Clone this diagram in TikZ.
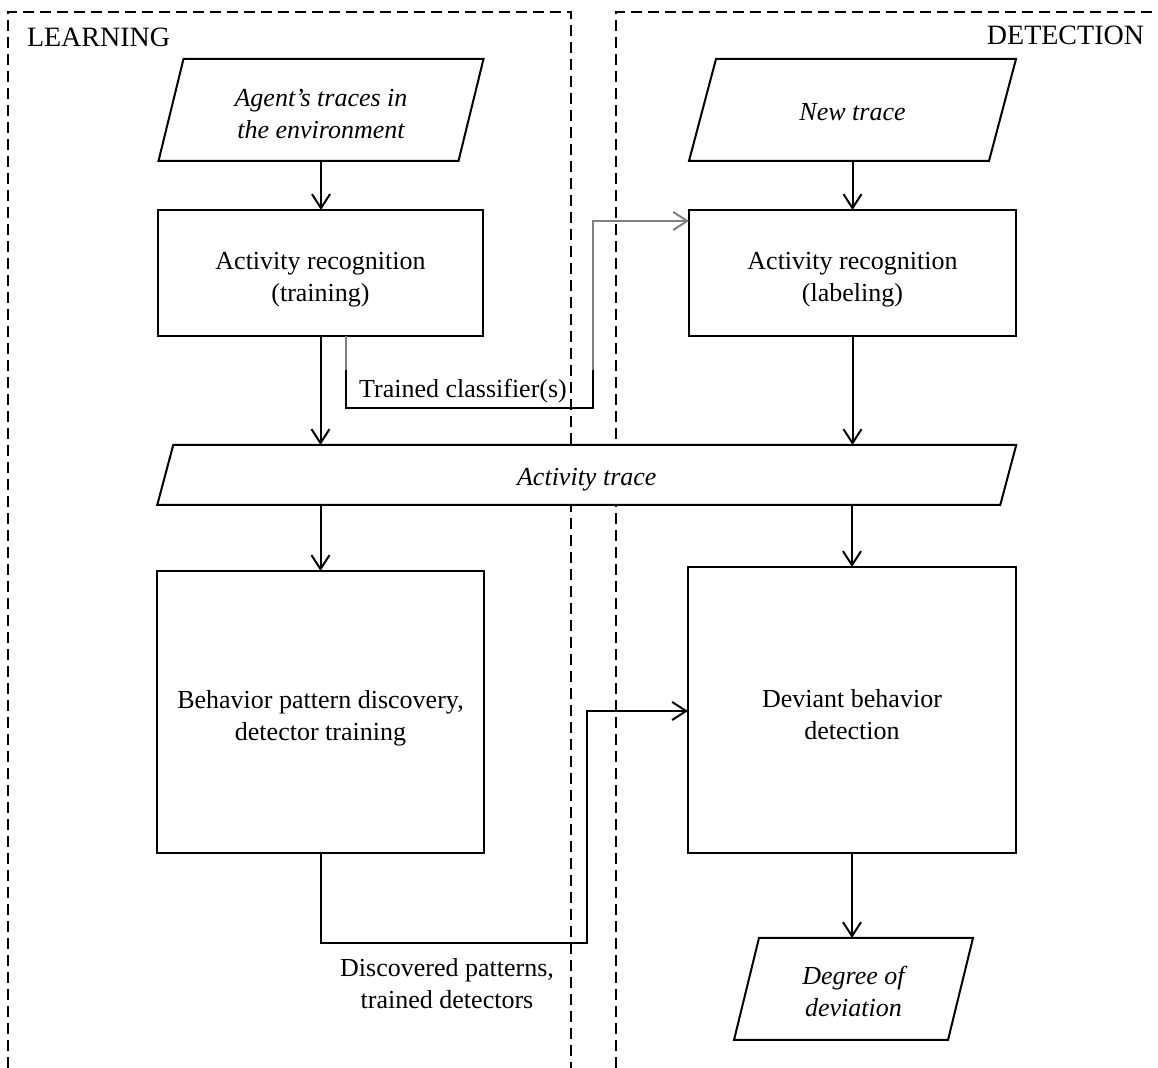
\documentclass[tikz,border=0pt]{standalone}
\usepackage{fontspec}
\setmainfont{Liberation Serif}
\usetikzlibrary{arrows.meta,calc}
\begin{document}
\begin{tikzpicture}[x=0.5pt,y=-0.5pt,
  every node/.style={font=\fontsize{13pt}{16pt}\selectfont, inner sep=0pt, outer sep=0pt, align=center},
  frame/.style={line width=1pt, dash pattern=on 5.5pt off 3pt},
  box/.style={draw, line width=1pt, rectangle},
  iobox/.style={rectangle, font=\fontsize{13pt}{16pt}\selectfont\itshape},
  flow/.style={line width=1pt, -{Straight Barb[length=7pt,width=9pt]}},
  link/.style={line width=1pt},
  faded/.style={draw=black!50},
  heading/.style={font=\fontsize{14pt}{16pt}\selectfont}
]
% parallelogram drawn around a plain rectangular node
\newcommand\slantbox[2]{\draw[line width=1pt] ($(#1.north west)+(#2,0)$) -- (#1.north east) -- ($(#1.south east)-(#2,0)$) -- (#1.south west) -- cycle;}

\useasboundingbox (0,0) rectangle (1158,1068);

% phase frames
\draw[frame] (8,1068) -- (8,12) -- (571,12) -- (571,1068);
\draw[frame] (616,1068) -- (616,12) -- (1158,12);
\node[heading, anchor=base west] (hlearn) at (27,47) {LEARNING};
\node[heading, anchor=base east] (hdetect) at (1144,45) {DETECTION};

% learning column (shapes first, their text set slightly below centre)
\node[iobox, minimum width=162.5pt, minimum height=51pt] (agent) at (321,110) {};
\node[iobox] (agentt) at ([yshift=-2pt]agent.center) {Agent's traces in\\the environment};
\slantbox{agent}{25}
\node[box, minimum width=162.5pt, minimum height=63pt] (train) at (320.5,273) {};
\node (traint) at ([yshift=-3.5pt]train.center) {Activity recognition\\(training)};

% detection column
\node[iobox, minimum width=163.5pt, minimum height=51pt] (newtr) at (852.5,110) {};
\node[iobox] (newtrt) at ([yshift=-1pt]newtr.center) {New trace};
\slantbox{newtr}{27}
\node[box, minimum width=163.5pt, minimum height=63pt] (label) at (852.5,273) {};
\node (labelt) at ([yshift=-3.5pt]label.center) {Activity recognition\\(labeling)};

% shared activity trace, covering the frame lines
\node[iobox, fill=white, minimum width=429.5pt, minimum height=30pt] (trace) at (586.75,475) {};
\node[iobox] (tracet) at ([yshift=-2.5pt]trace.center) {Activity trace};
\slantbox{trace}{16}

\node[box, minimum width=163.5pt, minimum height=141pt] (behav) at (320.5,712) {};
\node (behavt) at ([yshift=-3pt]behav.center) {Behavior pattern discovery,\\detector training};
\node[box, minimum width=164pt, minimum height=143pt] (devia) at (852,710) {};
\node (deviat) at ([yshift=-2.5pt]devia.center) {Deviant behavior\\detection};
\node[iobox, minimum width=119.5pt, minimum height=51pt] (degree) at (853.5,989) {};
\node[iobox] (degreet) at ([yshift=-1pt]degree.center) {Degree of\\deviation};
\slantbox{degree}{25}

% main flow
\draw[flow] (agent.south) -- (agent.south |- train.north);
\draw[flow] (train.south) -- (train.south |- trace.north);
\draw[flow] (behav.north |- trace.south) -- (behav.north);
\draw[flow] (newtr.south) -- (newtr.south |- label.north);
\draw[flow] (label.south) -- (label.south |- trace.north);
\draw[flow] (devia.north |- trace.south) -- (devia.north);
\draw[flow] (devia.south) -- (devia.south |- degree.north);

% classifier hand-over
\coordinate (tcA) at (346,370);
\coordinate (tcB) at (593,408);
\coordinate (tcC) at (593,370);
\coordinate (tcD) at (593,221);
\draw[link, faded] (train.south) ++(25.5,0) -- (tcA);
\draw[link] (tcA) |- (tcB) -- (tcC);
\draw[flow, faded] (tcC) -- (tcD) -- (label.west |- tcD);
\node[anchor=base] (tclab) at (463,398) {Trained classifier(s)};

% detector hand-over
\coordinate (dpA) at (587,943);
\coordinate (dpB) at (587,711);
\draw[flow] (behav.south) |- (dpA) -- (dpB) -- (devia.west |- dpB);
\node (dplab) at (447,984) {Discovered patterns,\\trained detectors};
\end{tikzpicture}
\end{document}
